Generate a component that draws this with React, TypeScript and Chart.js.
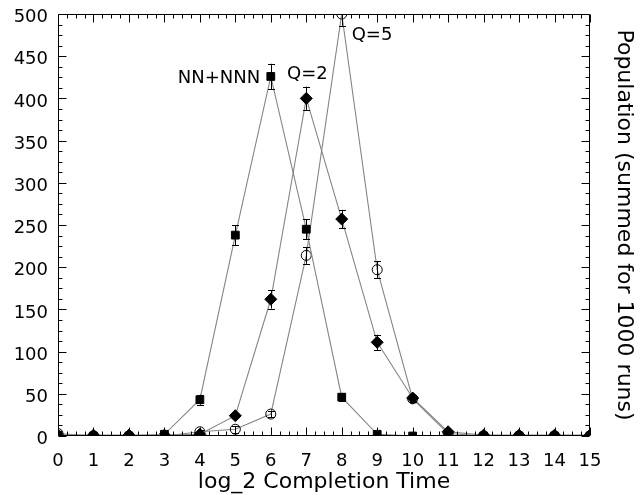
import { useEffect, useRef } from "react";
import { Chart, registerables } from "chart.js";

Chart.register(...registerables);

// ---- data ----
const completionTimes = [0, 1, 2, 3, 4, 5, 6, 7, 8, 9, 10, 11, 12, 13, 14, 15];

const nnValues = [1, 0, 0, 2, 43, 238, 426, 245, 46, 2, 0, 0, 0, 0, 0, 0];
const nnErrors = [0, 0, 0, 0, 6, 12, 15, 12, 5, 1, 0, 0, 0, 0, 0, 0];

const q2Values = [1, 1, 1, 1, 2, 24, 162, 400, 257, 111, 45, 5, 1, 1, 1, 1];
const q2Errors = [0, 0, 0, 0, 0, 3, 11, 14, 11, 9, 4, 1, 0, 0, 0, 0];

const q5Values = [3, 0, 0, 0, 5, 8, 26, 214, 500, 197, 44, 3, 0, 0, 0, 0];
const q5Errors = [0, 0, 0, 0, 2, 4, 4, 10, 14, 10, 4, 1, 0, 0, 0, 0];

const seriesNames = ["NN+NNN", "Q=2", "Q=5"];
// label anchor points in data coordinates
const labelX = [5.7, 6.46, 8.28];
const labelY = [424, 429, 475];
const labelAlign: CanvasTextAlign[] = ["right", "left", "left"];

const xTitle = "log_2 Completion Time";
const yTitle = "Population (summed for 1000 runs)";

const FONT = "DejaVu Sans";

const toPoints = (vals: number[]) => completionTimes.map((t, i) => ({ x: t, y: vals[i] }));

const noPad = (s: any) => {
  s.paddingTop = 0;
  s.paddingBottom = 0;
  s.paddingLeft = 0;
  s.paddingRight = 0;
};

const decorPlugin = {
  id: "decor",
  afterDatasetsDraw(chart: any) {
    const { ctx, chartArea: a, scales } = chart;
    const xs = scales.x;
    const ys = scales.y;

    // error bars
    ctx.save();
    ctx.beginPath();
    ctx.rect(a.left, a.top, a.right - a.left, a.bottom - a.top);
    ctx.clip();
    ctx.strokeStyle = "#000";
    ctx.lineWidth = 1;
    chart.data.datasets.forEach((ds: any) => {
      const errs: number[] = ds.errors || [];
      ds.data.forEach((p: any, i: number) => {
        const e = errs[i] || 0;
        if (e <= 0) return;
        const px = Math.round(xs.getPixelForValue(p.x)) + 0.5;
        const top = ys.getPixelForValue(p.y + e);
        const bot = ys.getPixelForValue(p.y - e);
        ctx.beginPath();
        ctx.moveTo(px, top);
        ctx.lineTo(px, bot);
        ctx.moveTo(px - 3.5, Math.round(top) + 0.5);
        ctx.lineTo(px + 3.5, Math.round(top) + 0.5);
        ctx.moveTo(px - 3.5, Math.round(bot) + 0.5);
        ctx.lineTo(px + 3.5, Math.round(bot) + 0.5);
        ctx.stroke();
      });
    });
    ctx.restore();

    // frame + inward ticks
    ctx.save();
    ctx.strokeStyle = "#000";
    ctx.lineWidth = 1;
    const L = Math.round(a.left) + 0.5;
    const R = Math.round(a.right) - 0.5;
    const T = Math.round(a.top) + 0.5;
    const B = Math.round(a.bottom) - 0.5;
    ctx.beginPath();
    ctx.rect(L, T, R - L, B - T);
    ctx.stroke();

    const major = 8;
    const minor = 4;
    const sub = 4;
    ctx.beginPath();
    const xt = xs.ticks.map((t: any) => t.value);
    for (let i = 0; i < xt.length; i++) {
      const px = Math.round(xs.getPixelForValue(xt[i])) + 0.5;
      ctx.moveTo(px, B);
      ctx.lineTo(px, B - major);
      ctx.moveTo(px, T);
      ctx.lineTo(px, T + major);
      if (i < xt.length - 1) {
        for (let k = 1; k < sub; k++) {
          const v = xt[i] + ((xt[i + 1] - xt[i]) * k) / sub;
          const mx = Math.round(xs.getPixelForValue(v)) + 0.5;
          ctx.moveTo(mx, B);
          ctx.lineTo(mx, B - minor);
          ctx.moveTo(mx, T);
          ctx.lineTo(mx, T + minor);
        }
      }
    }
    const yt = ys.ticks.map((t: any) => t.value);
    for (let i = 0; i < yt.length; i++) {
      const py = Math.round(ys.getPixelForValue(yt[i])) + 0.5;
      ctx.moveTo(L, py);
      ctx.lineTo(L + major, py);
      ctx.moveTo(R, py);
      ctx.lineTo(R - major, py);
      if (i < yt.length - 1) {
        for (let k = 1; k < sub; k++) {
          const v = yt[i] + ((yt[i + 1] - yt[i]) * k) / sub;
          const my = Math.round(ys.getPixelForValue(v)) + 0.5;
          ctx.moveTo(L, my);
          ctx.lineTo(L + minor, my);
          ctx.moveTo(R, my);
          ctx.lineTo(R - minor, my);
        }
      }
    }
    ctx.stroke();

    // series labels
    ctx.fillStyle = "#000";
    ctx.font = `18px "${FONT}"`;
    ctx.textBaseline = "middle";
    seriesNames.forEach((name, i) => {
      ctx.textAlign = labelAlign[i];
      ctx.fillText(name, xs.getPixelForValue(labelX[i]), ys.getPixelForValue(labelY[i]));
    });
    ctx.restore();
  },
};

export default function App() {
  const canvasRef = useRef<HTMLCanvasElement | null>(null);

  useEffect(() => {
    const canvas = canvasRef.current;
    if (!canvas) return;
    Chart.defaults.font.family = FONT;
    const lineColor = "#858585";
    const chart = new Chart(canvas, {
      type: "scatter",
      data: {
        datasets: [
          {
            label: seriesNames[0],
            data: toPoints(nnValues),
            errors: nnErrors,
            showLine: true,
            borderColor: lineColor,
            borderWidth: 1.1,
            pointStyle: "rect",
            pointRadius: 5.5,
            pointBackgroundColor: "#000",
            pointBorderColor: "#000",
            pointBorderWidth: 1,
            clip: 0,
          } as any,
          {
            label: seriesNames[1],
            data: toPoints(q2Values),
            errors: q2Errors,
            showLine: true,
            borderColor: lineColor,
            borderWidth: 1.1,
            pointStyle: "rectRot",
            pointRadius: 6,
            pointBackgroundColor: "#000",
            pointBorderColor: "#000",
            pointBorderWidth: 1,
            clip: 0,
          } as any,
          {
            label: seriesNames[2],
            data: toPoints(q5Values),
            errors: q5Errors,
            showLine: true,
            borderColor: lineColor,
            borderWidth: 1.1,
            pointStyle: "circle",
            pointRadius: 5,
            pointBackgroundColor: "rgba(0,0,0,0)",
            pointBorderColor: "#000",
            pointBorderWidth: 1,
            clip: 0,
          } as any,
        ],
      },
      options: {
        animation: false,
        responsive: true,
        maintainAspectRatio: false,
        layout: { padding: { top: 14, left: 0, right: 0, bottom: 0 } },
        plugins: { legend: { display: false }, tooltip: { enabled: false } },
        scales: {
          x: {
            type: "linear",
            min: 0,
            max: 15,
            ticks: { stepSize: 1, color: "#000", padding: 15, font: { size: 18, family: FONT } },
            grid: { display: false, drawTicks: false },
            border: { display: false },
            title: {
              display: true,
              text: xTitle,
              color: "#000",
              font: { size: 22, family: FONT },
              padding: { top: 0, bottom: 0 },
            },
            afterFit: (s: any) => {
              s.height = 59;
              noPad(s);
            },
          },
          y: {
            type: "linear",
            position: "left",
            min: 0,
            max: 500,
            ticks: {
              stepSize: 50,
              color: "#000",
              padding: 10,
              font: { size: 18, family: FONT, lineHeight: "7px" },
              // empty first line nudges the number a few pixels below the tick, as in the reference
              callback: (v: any) => ["", String(v)],
            },
            grid: { display: false, drawTicks: false },
            border: { display: false },
            afterFit: (s: any) => {
              s.width = 58;
              noPad(s);
            },
          },
          y2: {
            type: "linear",
            position: "right",
            min: 0,
            max: 500,
            ticks: { display: false },
            grid: { display: false, drawTicks: false },
            border: { display: false },
            title: {
              display: true,
              text: yTitle,
              color: "#000",
              font: { size: 22, family: FONT },
              padding: { top: 5, bottom: 0 },
            },
            afterFit: (s: any) => {
              s.width = 52;
              noPad(s);
            },
          },
        },
      } as any,
      plugins: [decorPlugin],
    });
    return () => chart.destroy();
  }, []);

  return (
    <div style={{ position: "absolute", left: 0, top: 0, width: 642, height: 495, background: "#fff" }}>
      <canvas ref={canvasRef} />
    </div>
  );
}
